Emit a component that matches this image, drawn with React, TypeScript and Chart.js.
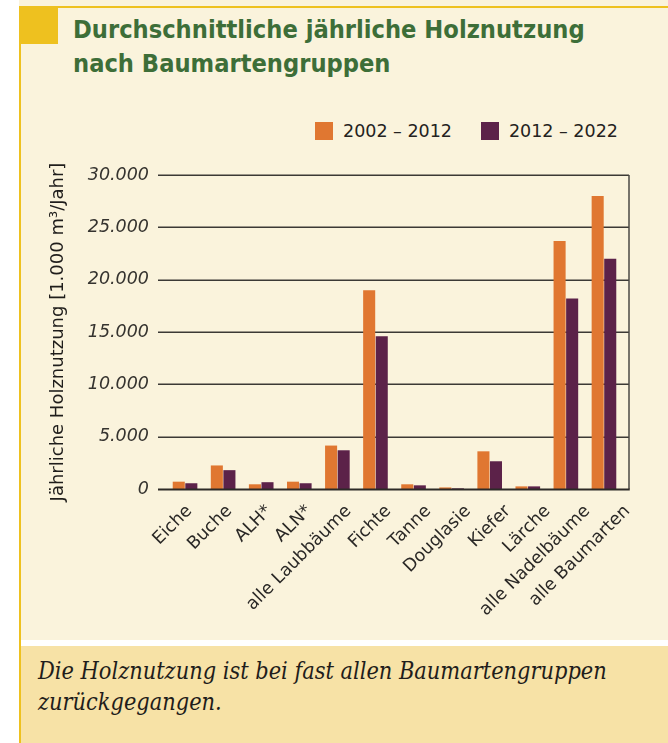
import React, { useEffect, useRef } from "react";
import { Chart, registerables } from "chart.js";

Chart.register(...registerables);

const categories = [
  "Eiche",
  "Buche",
  "ALH*",
  "ALN*",
  "alle Laubbäume",
  "Fichte",
  "Tanne",
  "Douglasie",
  "Kiefer",
  "Lärche",
  "alle Nadelbäume",
  "alle Baumarten",
];
const series1Label = "2002 – 2012";
const series2Label = "2012 – 2022";
const series1 = [700, 2250, 450, 700, 4150, 19000, 450, 150, 3600, 250, 23700, 28000];
const series2 = [550, 1800, 650, 550, 3700, 14600, 350, 60, 2650, 250, 18200, 22000];
const yTicks = [0, 5000, 10000, 15000, 20000, 25000, 30000];
const yTitle = "Jährliche Holznutzung [1.000 m³/Jahr]";
const titleLines = ["Durchschnittliche jährliche Holznutzung", "nach Baumartengruppen"];
const noteLines = ["Die Holznutzung ist bei fast allen Baumartengruppen", "zurückgegangen."];

const LABEL_MIN = -0.59;
const LABEL_MAX = 10.892;

const ORANGE = "#E07731";
const PURPLE = "#5C2249";
const CREAM = "#FAF3DC";
const YELLOW = "#EEC11F";
const NOTE_BG = "#F7E2A6";
const GREEN = "#3D6E38";

const fmt = (v: number) => String(v).replace(/\B(?=(\d{3})+(?!\d))/g, ".");

const framePlugin = {
  id: "framePlugin",
  beforeDatasetsDraw(chart: any) {
    const { ctx, chartArea, scales } = chart;
    const y = scales.y;
    const x0 = chartArea.left - 8;
    const x1 = chartArea.right + 6;
    ctx.save();
    ctx.strokeStyle = "#3b3935";
    ctx.lineWidth = 1.5;
    yTicks.forEach((t) => {
      if (t === 0) return;
      const py = Math.round(y.getPixelForValue(t)) + 0.25;
      ctx.beginPath();
      ctx.moveTo(x0, py);
      ctx.lineTo(x1, py);
      ctx.stroke();
    });
    ctx.strokeStyle = "#4a4844";
    ctx.lineWidth = 1.5;
    ctx.beginPath();
    ctx.moveTo(x1, y.getPixelForValue(30000));
    ctx.lineTo(x1, y.getPixelForValue(0));
    ctx.stroke();
    ctx.restore();
  },
  afterDatasetsDraw(chart: any) {
    const { ctx, chartArea, scales } = chart;
    const y = scales.y;
    const x0 = chartArea.left - 8;
    const x1 = chartArea.right + 6.75;
    ctx.save();
    ctx.strokeStyle = "#2c2a27";
    ctx.lineWidth = 2;
    const py = y.getPixelForValue(0) + 0.5;
    ctx.beginPath();
    ctx.moveTo(x0, py);
    ctx.lineTo(x1, py);
    ctx.stroke();
    ctx.restore();
  },
};

export default function App() {
  const canvasRef = useRef<HTMLCanvasElement | null>(null);

  useEffect(() => {
    document.body.style.margin = "0";
    const canvas = canvasRef.current;
    if (!canvas) return;
    const chart = new Chart(canvas, {
      type: "bar",
      data: {
        labels: categories,
        datasets: [
          {
            label: series1Label,
            data: series1,
            backgroundColor: ORANGE,
            borderWidth: 0,
            categoryPercentage: 0.66,
            barPercentage: 0.96,
            xAxisID: "x",
          },
          {
            label: series2Label,
            data: series2,
            backgroundColor: PURPLE,
            borderWidth: 0,
            categoryPercentage: 0.66,
            barPercentage: 0.96,
            xAxisID: "x",
          },
        ],
      },
      options: {
        animation: false,
        responsive: false,
        maintainAspectRatio: false,
        devicePixelRatio: 1,
        layout: { padding: { left: 40, right: 45, top: 25, bottom: 0 } },
        plugins: {
          legend: { display: false },
          tooltip: { enabled: false },
          title: { display: false },
        },
        scales: {
          x: {
            type: "category",
            offset: true,
            display: false,
          },
          xl: {
            type: "linear",
            position: "bottom",
            min: LABEL_MIN,
            max: LABEL_MAX,
            bounds: "data",
            offset: false,
            grid: { display: false },
            border: { display: false },
            afterBuildTicks: (s: any) => {
              s.ticks = categories.map((_, i) => ({ value: i }));
              s.min = LABEL_MIN;
              s.max = LABEL_MAX;
            },
            ticks: {
              autoSkip: false,
              includeBounds: false,
              maxRotation: 45,
              minRotation: 45,
              padding: 4,
              color: "#2a2826",
              font: { family: "DejaVu Sans", size: 17.5 },
              callback: (_v: any, i: number) => categories[i],
            },
            afterFit: (s: any) => {
              s.height = 151;
            },
          },
          y: {
            type: "linear",
            position: "left",
            min: 0,
            max: 30000,
            grid: { display: false },
            border: { display: false },
            ticks: {
              stepSize: 5000,
              padding: 9,
              color: "#35332f",
              font: { family: "DejaVu Sans", size: 17.5, style: "italic" },
              callback: (v: any) => fmt(Number(v)),
            },
            title: {
              display: true,
              text: yTitle,
              color: "#1f1d1b",
              font: { family: "DejaVu Sans", size: 18 },
              padding: { top: 8, bottom: 0 },
            },
            afterFit: (s: any) => {
              s.width = 126;
            },
          },
        },
      },
      plugins: [framePlugin],
    });
    return () => chart.destroy();
  }, []);

  return (
    <div
      style={{
        position: "fixed",
        left: 0,
        top: 0,
        width: 668,
        height: 743,
        background: "#ffffff",
        overflow: "hidden",
      }}
    >
      <div style={{ position: "absolute", left: 19, top: 0, width: 649, height: 640, background: CREAM }} />
      <div style={{ position: "absolute", left: 19, top: 6, width: 649, height: 1.5, background: YELLOW }} />
      <div style={{ position: "absolute", left: 21, top: 646, width: 647, height: 97, background: NOTE_BG }} />
      <div style={{ position: "absolute", left: 19, top: 6, width: 2, height: 737, background: YELLOW }} />
      <div style={{ position: "absolute", left: 19, top: 6, width: 39, height: 38, background: YELLOW }} />
      <div
        style={{
          position: "absolute",
          left: 73,
          top: 13,
          fontFamily: "'DejaVu Sans Condensed', 'DejaVu Sans', sans-serif",
          fontStretch: "condensed",
          fontWeight: 700,
          fontSize: 25.2,
          lineHeight: "34px",
          color: GREEN,
          whiteSpace: "nowrap",
        }}
      >
        {titleLines[0]}
        <br />
        {titleLines[1]}
      </div>
      <div
        style={{
          position: "absolute",
          left: 315,
          top: 122,
          height: 18,
          display: "flex",
          alignItems: "center",
          fontFamily: "'DejaVu Sans', sans-serif",
          fontSize: 17.5,
          color: "#242220",
          whiteSpace: "nowrap",
        }}
      >
        <span style={{ display: "inline-block", width: 18, height: 18, background: ORANGE, marginRight: 10 }} />
        <span style={{ marginRight: 29 }}>{series1Label}</span>
        <span style={{ display: "inline-block", width: 18, height: 18, background: PURPLE, marginRight: 10 }} />
        <span>{series2Label}</span>
      </div>
      <canvas
        ref={canvasRef}
        width={668}
        height={490}
        style={{ position: "absolute", left: 0, top: 150, width: 668, height: 490 }}
      />
      <div
        style={{
          position: "absolute",
          left: 38,
          top: 655,
          fontFamily: "'DejaVu Serif Condensed', 'DejaVu Serif', serif",
          fontStretch: "condensed",
          fontStyle: "italic",
          fontSize: 23.3,
          lineHeight: "31px",
          color: "#1f1d1b",
          whiteSpace: "nowrap",
        }}
      >
        {noteLines[0]}
        <br />
        {noteLines[1]}
      </div>
    </div>
  );
}
